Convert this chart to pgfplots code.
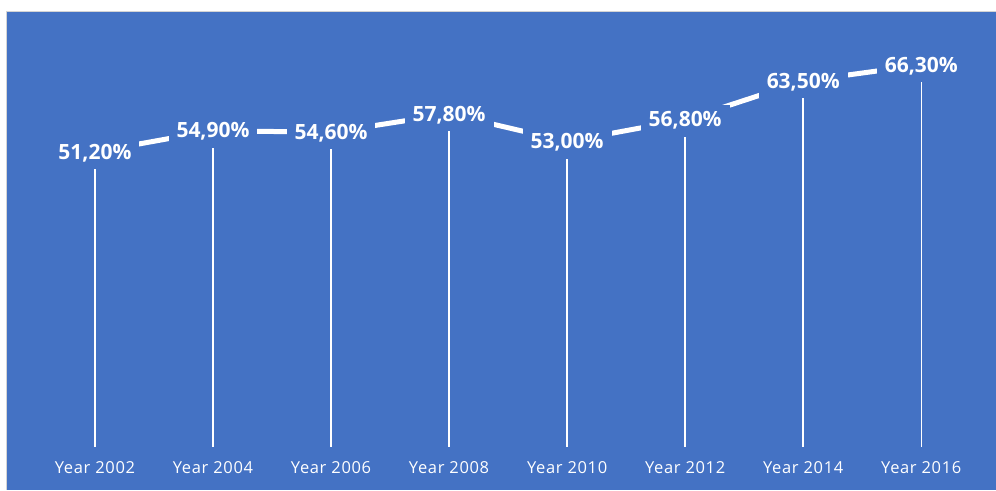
\documentclass[border=0pt]{standalone}
\usepackage{fontspec}
\setmainfont{Open Sans}
\newfontfamily\tickfont[LetterSpace=4]{Open Sans}
\usepackage{pgfplots}
\pgfplotsset{compat=1.18}
\definecolor{bg}{HTML}{4472C4}
\definecolor{framec}{HTML}{D4D4D4}
\begin{document}
\begin{tikzpicture}
\begin{axis}[
  scale only axis, width=989pt, height=478pt,
  xmin=-0.745, xmax=7.629, ymin=-7.47, ymax=75.5,
  axis background/.style={fill=bg},
  axis line style={draw=none},
  ytick=\empty,
  xtick={0,...,7},
  xticklabels={Year 2002,Year 2004,Year 2006,Year 2008,Year 2010,Year 2012,Year 2014,Year 2016},
  major tick length=0pt,
  xticklabel style={text=white, font=\tickfont\fontsize{16.5}{19}\selectfont, anchor=base, yshift=16pt},
  clip=false,
]
\addplot[ycomb, white, line width=1.5pt, mark=none] table[x=x,y=y]{
x y
0 51.2
1 54.9
2 54.6
3 57.8
4 53.0
5 56.8
6 63.5
7 66.3
};
\addplot[white, line width=5pt, mark=none, line join=round,
  nodes near coords, point meta=explicit symbolic,
  nodes near coords style={anchor=center, fill=bg, text=white,
    font=\bfseries\fontsize{21}{25}\selectfont, inner xsep=8pt, inner ysep=7pt, yshift=-1pt}]
  table[x=x,y=y,meta=lab]{
x y lab
0 51.2 51,20\%
1 54.9 54,90\%
2 54.6 54,60\%
3 57.8 57,80\%
4 53.0 53,00\%
5 56.8 56,80\%
6 63.5 63,50\%
7 66.3 66,30\%
};
\end{axis}
\path ([xshift=-7pt,yshift=12pt]current axis.north west);
\draw[framec, line width=1pt] ([xshift=-0.5pt]current axis.south west) -- ([xshift=-0.5pt,yshift=0.5pt]current axis.north west) -- ([yshift=0.5pt]current axis.north east);
\end{tikzpicture}
\end{document}
